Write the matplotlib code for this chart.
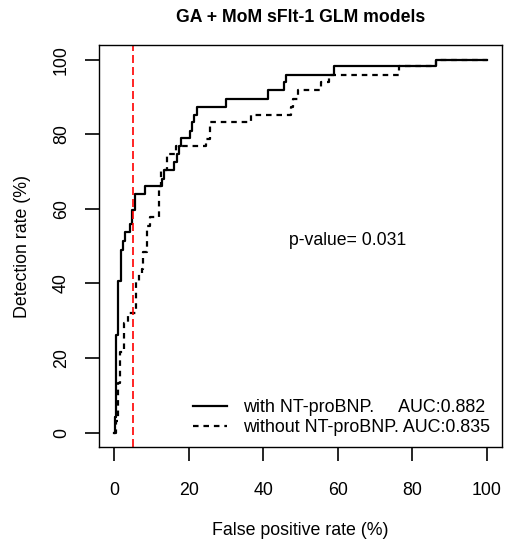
import matplotlib
matplotlib.use("Agg")
import matplotlib.pyplot as plt
from matplotlib.lines import Line2D

plt.rcParams["font.family"] = ["Liberation Sans", "DejaVu Sans"]

with_fpr = [0, 0.3, 0.6, 1.2, 1.9, 2.3, 2.9, 4.3, 4.9, 5.6, 8.3, 12.8, 13.4, 16.1,
            17.0, 17.4, 18.0, 20.4, 21.0, 21.5, 22.2, 30.0, 41.4, 45.7, 46.1, 59.0, 86.2, 100]
with_tpr = [0, 4.3, 26.1, 40.7, 49.0, 51.4, 53.7, 55.9, 59.8, 64.0, 66.2, 68.0, 70.4, 72.5,
            74.7, 77.0, 79.0, 81.0, 83.2, 85.3, 87.4, 89.5, 91.8, 94.0, 96.0, 98.2, 100, 100]

without_fpr = [0, 0.5, 1.2, 1.7, 2.6, 3.8, 5.8, 6.6, 7.4, 7.8, 8.8, 9.7, 12.1, 12.6,
               14.1, 16.7, 24.8, 25.7, 36.7, 47.5, 48.0, 49.4, 55.5, 57.7, 76.5, 86.2, 100]
without_tpr = [0, 3.0, 13.4, 21.5, 29.5, 32.0, 40.3, 42.5, 43.8, 48.4, 55.5, 57.7, 66.2, 70.3,
               74.7, 76.8, 78.8, 83.2, 85.3, 87.4, 89.5, 91.8, 94.0, 96.0, 98.2, 100, 100]

cutoff_fpr = 5
labels = ["with NT-proBNP.     AUC:0.882", "without NT-proBNP. AUC:0.835"]
ticks = [0, 20, 40, 60, 80, 100]

FS = 12.8
dash = (0, (2.5, 2.2))

fig = plt.figure(figsize=(5.08, 5.47), dpi=100)
ax = fig.add_axes([0.195, 0.182, 0.793, 0.736])

ax.plot(with_fpr, with_tpr, drawstyle="steps-post", color="black", lw=1.6)
ax.plot(without_fpr, without_tpr, drawstyle="steps-post", color="black", lw=1.6,
        linestyle=dash)
ax.axvline(cutoff_fpr, color="red", lw=1.2, linestyle=(0, (4.8, 2.4)))

ax.set_xlim(-4, 104)
ax.set_ylim(-4, 104)
ax.set_xticks(ticks)
ax.set_yticks(ticks)
ax.tick_params(direction="out", length=10, width=1.2, labelsize=FS)
ax.tick_params(axis="x", pad=15)
ax.tick_params(axis="y", pad=11)
for lbl in ax.get_yticklabels():
    lbl.set_rotation(90)
    lbl.set_va("center")
for s in ax.spines.values():
    s.set_linewidth(1.0)

ax.set_xlabel("False positive rate (%)", fontsize=FS)
ax.xaxis.set_label_coords(0.5, -0.206)
ax.xaxis.label.set_va("center")
ax.set_ylabel("Detection rate (%)", fontsize=FS)
ax.yaxis.set_label_coords(-0.191, 0.5)
ax.yaxis.label.set_va("center")

fig.text(300.5 / 508, 1 - 17.5 / 547, "GA + MoM sFlt-1 GLM models", fontsize=12.7,
         fontweight="bold", ha="center", va="center")

ax.text(46.9, 51.4, "p-value= 0.031", fontsize=12.7, va="center", ha="left")

handles = [Line2D([], [], color="black", lw=1.6),
           Line2D([], [], color="black", lw=1.6, linestyle=dash)]
ax.legend(handles, labels, loc="lower right", frameon=False, fontsize=12.9,
          handlelength=1.9, handletextpad=0.9, labelspacing=0.15,
          borderaxespad=0.25)

fig.savefig("out.png", dpi=100)
